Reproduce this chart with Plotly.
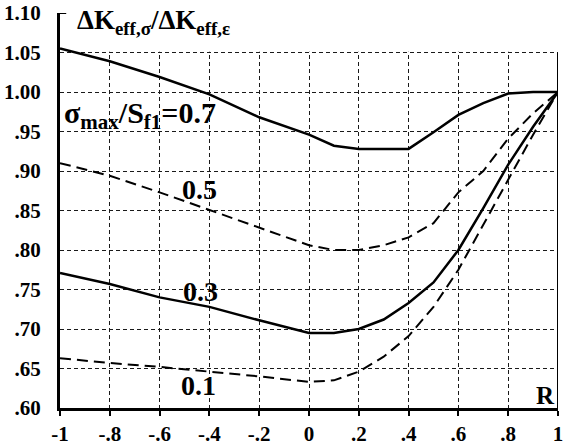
import plotly.graph_objects as go

# Stress ratio R (shared abscissa for all curves)
r_vals = [-1.0, -0.8, -0.6, -0.4, -0.2, 0.0, 0.1, 0.2, 0.3, 0.4, 0.5, 0.6, 0.7, 0.8, 0.9, 1.0]

# dK_eff,sigma / dK_eff,epsilon for each sigma_max/S_f1 level
ratio_07 = [1.055, 1.039, 1.019, 0.997, 0.968, 0.946, 0.932, 0.928, 0.928, 0.928, 0.949, 0.971, 0.986, 0.998, 1.0, 1.0]
ratio_05 = [0.910, 0.894, 0.873, 0.851, 0.829, 0.806, 0.800, 0.800, 0.806, 0.816, 0.834, 0.873, 0.900, 0.941, 0.973, 1.0]
ratio_03 = [0.771, 0.757, 0.740, 0.728, 0.711, 0.695, 0.695, 0.700, 0.712, 0.733, 0.759, 0.800, 0.853, 0.908, 0.956, 1.0]
ratio_01 = [0.663, 0.657, 0.652, 0.646, 0.640, 0.633, 0.635, 0.646, 0.665, 0.691, 0.728, 0.775, 0.832, 0.889, 0.946, 1.0]

x_ticks = [-1.0, -0.8, -0.6, -0.4, -0.2, 0.0, 0.2, 0.4, 0.6, 0.8, 1.0]
x_tick_text = ["-1", "-.8", "-.6", "-.4", "-.2", "0", ".2", ".4", ".6", ".8", "1"]
y_ticks = [0.60, 0.65, 0.70, 0.75, 0.80, 0.85, 0.90, 0.95, 1.00, 1.05, 1.10]
y_tick_text = [".60", ".65", ".70", ".75", ".80", ".85", ".90", ".95", "1.00", "1.05", "1.10"]

FONT = "Liberation Serif, Times New Roman, serif"
GRID_TOP = 1.05

series = [
    (ratio_07, "solid"),
    (ratio_05, "11px,6px"),
    (ratio_03, "solid"),
    (ratio_01, "11px,6px"),
]

fig = go.Figure()
for ys, dash in series:
    fig.add_trace(go.Scatter(
        x=r_vals, y=ys, mode="lines",
        line=dict(color="black", width=2.5 if dash == "solid" else 2.0, dash=dash),
        showlegend=False, hoverinfo="skip", cliponaxis=False,
    ))

grid_style = dict(showgrid=True, gridcolor="#1a1a1a", gridwidth=1.2, griddash="4px,3px")

fig.update_layout(
    width=564, height=448,
    margin=dict(l=60, r=1, t=13, b=40),
    paper_bgcolor="white", plot_bgcolor="white",
    font=dict(family=FONT, color="black", size=21),
    xaxis=dict(
        range=[-1, 1], tickvals=x_ticks,
        ticktext=[f"<b>{t}</b>" for t in x_tick_text],
        zeroline=False,
        showline=True, linecolor="black", linewidth=3,
        ticks="outside", ticklen=5, tickwidth=1.5, tickcolor="black",
        ticklabeloverflow="allow",
        tickfont=dict(family=FONT, size=21),
        **grid_style,
    ),
    yaxis=dict(
        range=[0.6, 1.1], tickvals=y_ticks,
        ticktext=[f"<b>{t}</b>" for t in y_tick_text],
        zeroline=False,
        showline=True, linecolor="black", linewidth=3,
        ticks="", ticklabelstandoff=12,
        tickfont=dict(family=FONT, size=21),
        **grid_style,
    ),
)

# the grid ends at the 1.05 line; blank out the band above it
fig.add_shape(type="rect", xref="x", yref="y", x0=-1, x1=1, y0=GRID_TOP + 0.001, y1=1.1,
              fillcolor="white", line=dict(width=0), layer="between")
# right-hand frame edge of the gridded area
fig.add_shape(type="line", xref="x", yref="y", x0=1, x1=1, y0=0.6, y1=GRID_TOP,
              line=dict(color="black", width=2), layer="between")
# small cap at the top of the ordinate axis
fig.add_shape(type="line", xref="x", yref="y", x0=-1, x1=-0.975, y0=1.1, y1=1.1,
              line=dict(color="black", width=2))

ann_font = dict(family=FONT, color="black")
fig.add_annotation(x=-0.94, y=1.089, xref="x", yref="y", xanchor="left", yanchor="middle",
                   text="<b>ΔK<sub>eff,σ</sub>/ΔK<sub>eff,ε</sub></b>", showarrow=False,
                   font=dict(size=27, **ann_font))
fig.add_annotation(x=-0.99, y=0.971, xref="x", yref="y", xanchor="left", yanchor="middle",
                   text="<b>σ<sub>max</sub>/S<sub>f1</sub>=0.7</b>", showarrow=False,
                   font=dict(size=30, **ann_font))
for txt, xv, yv in [("0.5", -0.44, 0.876), ("0.3", -0.435, 0.748), ("0.1", -0.443, 0.629)]:
    fig.add_annotation(x=xv, y=yv, xref="x", yref="y", text=f"<b>{txt}</b>", showarrow=False,
                       xanchor="center", yanchor="middle", font=dict(size=28, **ann_font))
fig.add_annotation(x=0.948, y=0.616, xref="x", yref="y", text="<b>R</b>", showarrow=False,
                   xanchor="center", yanchor="middle", font=dict(size=25, **ann_font))

fig.write_html("out.html")
